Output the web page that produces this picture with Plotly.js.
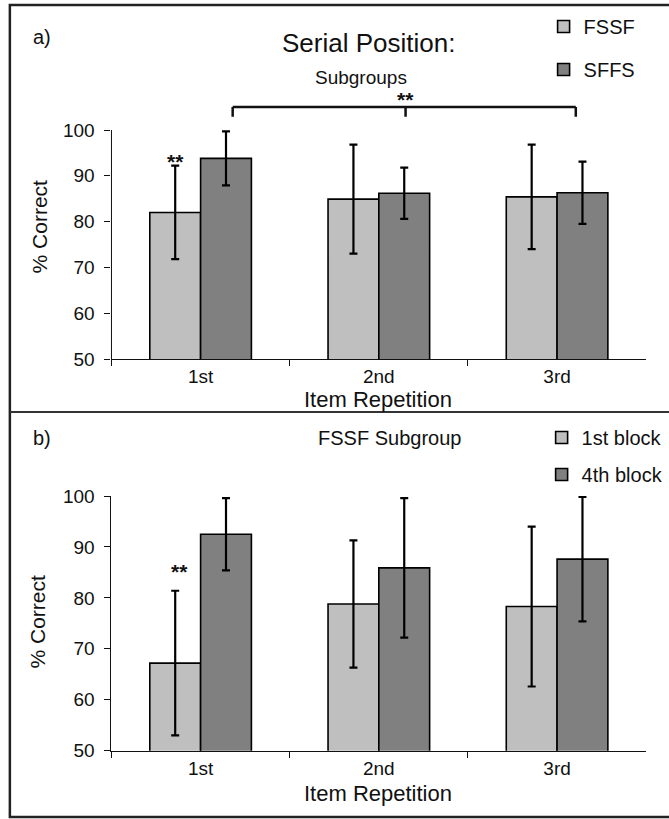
<!DOCTYPE html>
<html>
<head>
<meta charset="utf-8">
<script src="https://cdn.plot.ly/plotly-3.0.1.min.js"></script>
<style>
  html, body { margin: 0; padding: 0; background: #ffffff; }
  #chart { width: 669px; height: 819px; }
</style>
</head>
<body>
<div id="chart"></div>
<script>
// Item repetition categories shared by both panels
const repetitions = ['1st', '2nd', '3rd'];

// Panel a) serial position subgroups (% correct, mean and SD)
const fssfMean = [82.0, 84.9, 85.4];
const fssfErr  = [10.2, 11.9, 11.4];
const sffsMean = [93.8, 86.2, 86.3];
const sffsErr  = [5.9, 5.6, 6.8];

// Panel b) FSSF subgroup, first vs fourth block
const block1Mean = [67.2, 78.8, 78.3];
const block1Err  = [14.2, 12.5, 15.7];
const block4Mean = [92.5, 85.9, 87.6];
const block4Err  = [7.1, 13.7, 12.2];

// Significance marks
const sigTopLabel = '**';
const sigBottomLabel = '**';

const W = 669, H = 819;
const FONT = 'Liberation Sans, Arial, Helvetica, sans-serif';
const LIGHT = '#bfbfbf';
const DARK = '#808080';
const px = v => v / W;          // horizontal pixel -> paper
const py = v => 1 - v / H;      // vertical pixel -> paper

function barTrace(name, y, err, color, xa, ya, legend, group) {
  return {
    type: 'bar',
    name: name,
    x: repetitions,
    y: y,
    xaxis: xa,
    yaxis: ya,
    legend: legend,
    legendgroup: group,
    marker: { color: color, line: { color: '#000', width: 1.6 } },
    error_y: { type: 'data', array: err, visible: true, color: '#000', thickness: 2.2, width: 4 },
    hoverinfo: 'skip'
  };
}

const data = [
  barTrace('FSSF', fssfMean, fssfErr, LIGHT, 'x', 'y', 'legend', 'a1'),
  barTrace('SFFS', sffsMean, sffsErr, DARK, 'x', 'y', 'legend', 'a2'),
  barTrace('1st block', block1Mean, block1Err, LIGHT, 'x2', 'y2', 'legend2', 'b1'),
  barTrace('4th block', block4Mean, block4Err, DARK, 'x2', 'y2', 'legend2', 'b2')
];

const tickFont = { family: FONT, size: 19, color: '#111' };

function xAxis(anchor) {
  return {
    type: 'category',
    domain: [px(113), px(655)],
    anchor: anchor,
    range: [-0.5, 2.5],
    showline: true, linecolor: '#111', linewidth: 1,
    ticks: 'outside', tickson: 'boundaries', ticklen: 6, tickcolor: '#111',
    showgrid: false, zeroline: false,
    tickfont: tickFont,
    fixedrange: true
  };
}

function yAxis(anchor, domain, range, showline) {
  return {
    domain: domain,
    anchor: anchor,
    range: range,
    tickvals: [50, 60, 70, 80, 90, 100],
    showline: showline, linecolor: '#111', linewidth: 1,
    ticks: 'outside', ticklen: 6, tickcolor: '#111',
    ticklabelstandoff: 6,
    showgrid: false, zeroline: false,
    tickfont: tickFont,
    fixedrange: true
  };
}

function txt(text, x, y, size, extra) {
  return Object.assign({
    text: text, x: px(x), y: py(y), xref: 'paper', yref: 'paper',
    xanchor: 'center', yanchor: 'middle', showarrow: false,
    font: { family: FONT, size: size, color: '#111' }
  }, extra || {});
}

function stars(text, x, y, xr, yr) {
  return {
    text: '<b>' + text + '</b>', x: x, y: y, xref: xr, yref: yr,
    xanchor: 'center', yanchor: 'middle', showarrow: false,
    font: { family: FONT, size: 21, color: '#111' }
  };
}

const line = (x0, y0, x1, y1, w, xr, yr, c) => ({
  type: 'line', x0: x0, y0: y0, x1: x1, y1: y1, xref: xr, yref: yr,
  line: { color: c || '#111', width: w }
});

// bracket joining the SFFS bars across repetitions
const bracketLeft = 0.18, bracketMid = 1.15, bracketRight = 2.105;
const bracketY = 105, bracketLeg = 102.9;

// panel a) value scale: 50 sits at 359px, 100 at 130px; the range runs
// past 100 so the bracket and its stars share the same data scale
const aTop = 109;
const aPxPerUnit = (359 - 130) / 50;

const layout = {
  width: W, height: H,
  margin: { l: 0, r: 0, t: 0, b: 0 },
  paper_bgcolor: '#ffffff',
  plot_bgcolor: 'rgba(0,0,0,0)',
  barmode: 'group',
  bargap: 0.43,
  bargroupgap: 0,
  showlegend: true,
  font: { family: FONT, color: '#111' },
  xaxis: xAxis('y'),
  yaxis: yAxis('x', [py(359), py(359 - (aTop - 50) * aPxPerUnit)], [50, aTop], false),
  xaxis2: xAxis('y2'),
  yaxis2: yAxis('x2', [py(750.7), py(496)], [50, 100], true),
  legend: {
    x: px(551), y: py(7), xanchor: 'left', yanchor: 'top',
    traceorder: 'grouped', tracegroupgap: 14,
    bgcolor: 'rgba(0,0,0,0)', itemwidth: 30,
    font: { family: FONT, size: 20, color: '#111' }
  },
  legend2: {
    x: px(549), y: py(418), xanchor: 'left', yanchor: 'top',
    traceorder: 'grouped', tracegroupgap: 8,
    bgcolor: 'rgba(0,0,0,0)', itemwidth: 30,
    font: { family: FONT, size: 20, color: '#111' }
  },
  annotations: [
    txt('a)', 43, 37, 20),
    txt('Serial Position:', 374, 43, 26),
    txt('Subgroups', 366, 77, 19),
    txt('% Correct', 40, 226, 21, { textangle: -90 }),
    txt('Item Repetition', 383, 399, 22),
    txt('b)', 43, 438, 20),
    txt('FSSF Subgroup', 395, 438, 20),
    txt('% Correct', 38, 621, 21, { textangle: -90 }),
    txt('Item Repetition', 383, 793, 22),
    stars(sigTopLabel, bracketMid, 106.7, 'x', 'y'),
    stars(sigTopLabel, -0.14, 93.2, 'x', 'y'),
    stars(sigBottomLabel, -0.12, 85.2, 'x2', 'y2')
  ],
  shapes: [
    // outer frame and panel divider
    { type: 'rect', xref: 'paper', yref: 'paper', x0: px(10), x1: 1.05, y0: py(817), y1: py(5),
      line: { color: '#222', width: 2.5 }, fillcolor: 'rgba(0,0,0,0)' },
    line(px(10), py(412), 1.05, py(412), 2, 'paper', 'paper', '#333'),
    // value axis line of panel a) from 50 to 100
    line(0, 50, 0, 100, 1, 'x domain', 'y'),
    // significance bracket
    line(bracketLeft, bracketY, bracketRight, bracketY, 2.5, 'x', 'y'),
    line(bracketLeft, bracketY, bracketLeft, bracketLeg, 2.5, 'x', 'y'),
    line(bracketMid, bracketY, bracketMid, bracketLeg, 2.5, 'x', 'y'),
    line(bracketRight, bracketY, bracketRight, bracketLeg, 2.5, 'x', 'y')
  ]
};

Plotly.newPlot('chart', data, layout, { staticPlot: true, displayModeBar: false });
</script>
</body>
</html>
